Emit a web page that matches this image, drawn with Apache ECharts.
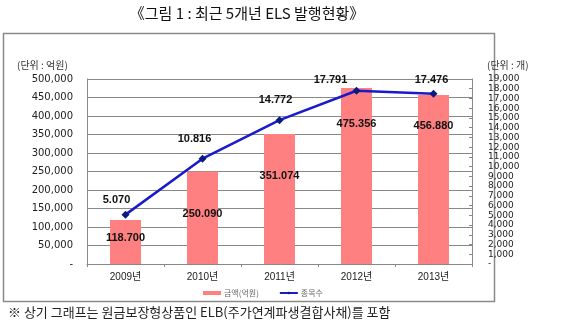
<!DOCTYPE html>
<html><head><meta charset="utf-8">
<script src="https://cdn.jsdelivr.net/npm/echarts@6/dist/echarts.min.js"></script>
<style>html,body{margin:0;padding:0;background:#fff}#c{width:580px;height:334px}</style>
</head><body><div id="c"></div>
<script>
const categories = ['2009년', '2010년', '2011년', '2012년', '2013년'];
const amountValues = [118700, 250090, 351074, 475356, 456880];
const countValues = [5070, 10816, 14772, 17791, 17476];
const titleText = '《그림 1 : 최근 5개년 ELS 발행현황》';
const leftUnit = '(단위 : 억원)';
const rightUnit = '(단위 : 개)';
const seriesNames = ['금액(억원)', '종목수'];
const footnote = '※ 상기 그래프는 원금보장형상품인 ELB(주가연계파생결합사채)를 포함';

const fmtDot = v => String(v).replace(/\B(?=(\d{3})+(?!\d))/g, '.');
const fmtComma = v => v === 0 ? '-' : String(v).replace(/\B(?=(\d{3})+(?!\d))/g, ',');
const numFont = "'DejaVu Sans', sans-serif";
const lblFont = "'Liberation Sans', Arial, sans-serif";
const krFont = "'Liberation Sans', 'Noto Sans CJK KR', sans-serif";

const barDist = [12, 37, 36, 30, 26];
const lineOff = [[-9, 0], [-8, -5], [-4, -6], [-26, 4], [-2, 1]];

const chart = echarts.init(document.getElementById('c'), null, {renderer: 'canvas'});
chart.setOption({
  animation: false,
  backgroundColor: '#fff',
  grid: {left: 87, right: 108, top: 79, bottom: 70, containLabel: false},
  graphic: [
    {type: 'rect', shape: {x: 3.5, y: 33.5, width: 491, height: 268}, style: {fill: 'none', stroke: '#8a8a8a', lineWidth: 1.5}},
    {type: 'text', style: {text: titleText, x: 247, y: 13, align: 'center', verticalAlign: 'middle', font: "15px 'Noto Sans CJK KR', sans-serif", fill: '#111'}},
    {type: 'text', style: {text: leftUnit, x: 17, y: 65, verticalAlign: 'middle', font: "10px 'Noto Sans CJK KR', sans-serif", fill: '#333'}},
    {type: 'text', style: {text: rightUnit, x: 487, y: 65, verticalAlign: 'middle', font: "10px 'Noto Sans CJK KR', sans-serif", fill: '#333'}},
    {type: 'text', style: {text: footnote, x: 8, y: 312, verticalAlign: 'middle', font: "13px 'Noto Sans CJK KR', sans-serif", fill: '#222'}}
  ],
  legend: {
    left: 198, top: 284, itemGap: 20, itemWidth: 18, itemHeight: 4,
    textStyle: {fontSize: 8, color: '#666', fontFamily: "'Noto Sans CJK KR', sans-serif", padding: [0, 0, 0, -2]},
    data: [{name: seriesNames[0], icon: 'rect'}, {name: seriesNames[1]}]
  },
  xAxis: {
    type: 'category', data: categories,
    axisLine: {lineStyle: {color: '#888', width: 1}},
    axisTick: {show: true, alignWithLabel: false, length: 3, lineStyle: {color: '#888'}},
    axisLabel: {fontSize: 10, color: '#222', margin: 8, fontFamily: krFont}
  },
  yAxis: [
    {
      type: 'value', min: 0, max: 500000, interval: 50000,
      axisLine: {show: true, lineStyle: {color: '#888'}},
      axisTick: {show: false},
      splitLine: {show: true, lineStyle: {color: '#888', width: 1}},
      axisLabel: {fontSize: 10, color: '#222', margin: 14, fontFamily: numFont, formatter: fmtComma, showMinLabel: true, showMaxLabel: true}
    },
    {
      type: 'value', min: 0, max: 19000, interval: 1000, position: 'right',
      axisLine: {show: true, lineStyle: {color: '#888'}},
      axisTick: {show: true, inside: true, length: 3, lineStyle: {color: '#888'}},
      splitLine: {show: false},
      axisLabel: {fontSize: 9, color: '#222', margin: 16, align: 'left', verticalAlign: 'middle', padding: [0, 0, 10, 0], fontFamily: numFont, formatter: fmtComma, showMinLabel: true, showMaxLabel: true, hideOverlap: false}
    }
  ],
  series: [
    {
      name: seriesNames[0], type: 'bar', yAxisIndex: 0, barWidth: 31,
      itemStyle: {color: '#ff8080'},
      data: amountValues.map((v, i) => ({value: v, label: {distance: barDist[i]}})),
      label: {show: true, position: 'insideTop', formatter: p => fmtDot(p.value), fontSize: 11, fontWeight: 'bold', color: '#111', fontFamily: lblFont},
      z: 2
    },
    {
      name: seriesNames[1], type: 'line', yAxisIndex: 1,
      symbol: 'diamond', symbolSize: 8,
      lineStyle: {color: '#1a1acc', width: 2.5},
      itemStyle: {color: '#0a1a80'},
      data: countValues.map((v, i) => ({value: v, label: {offset: lineOff[i]}})),
      label: {show: true, position: 'top', distance: 5, formatter: p => fmtDot(p.value), fontSize: 11, fontWeight: 'bold', color: '#111', fontFamily: lblFont},
      z: 3
    }
  ]
});
</script></body></html>
